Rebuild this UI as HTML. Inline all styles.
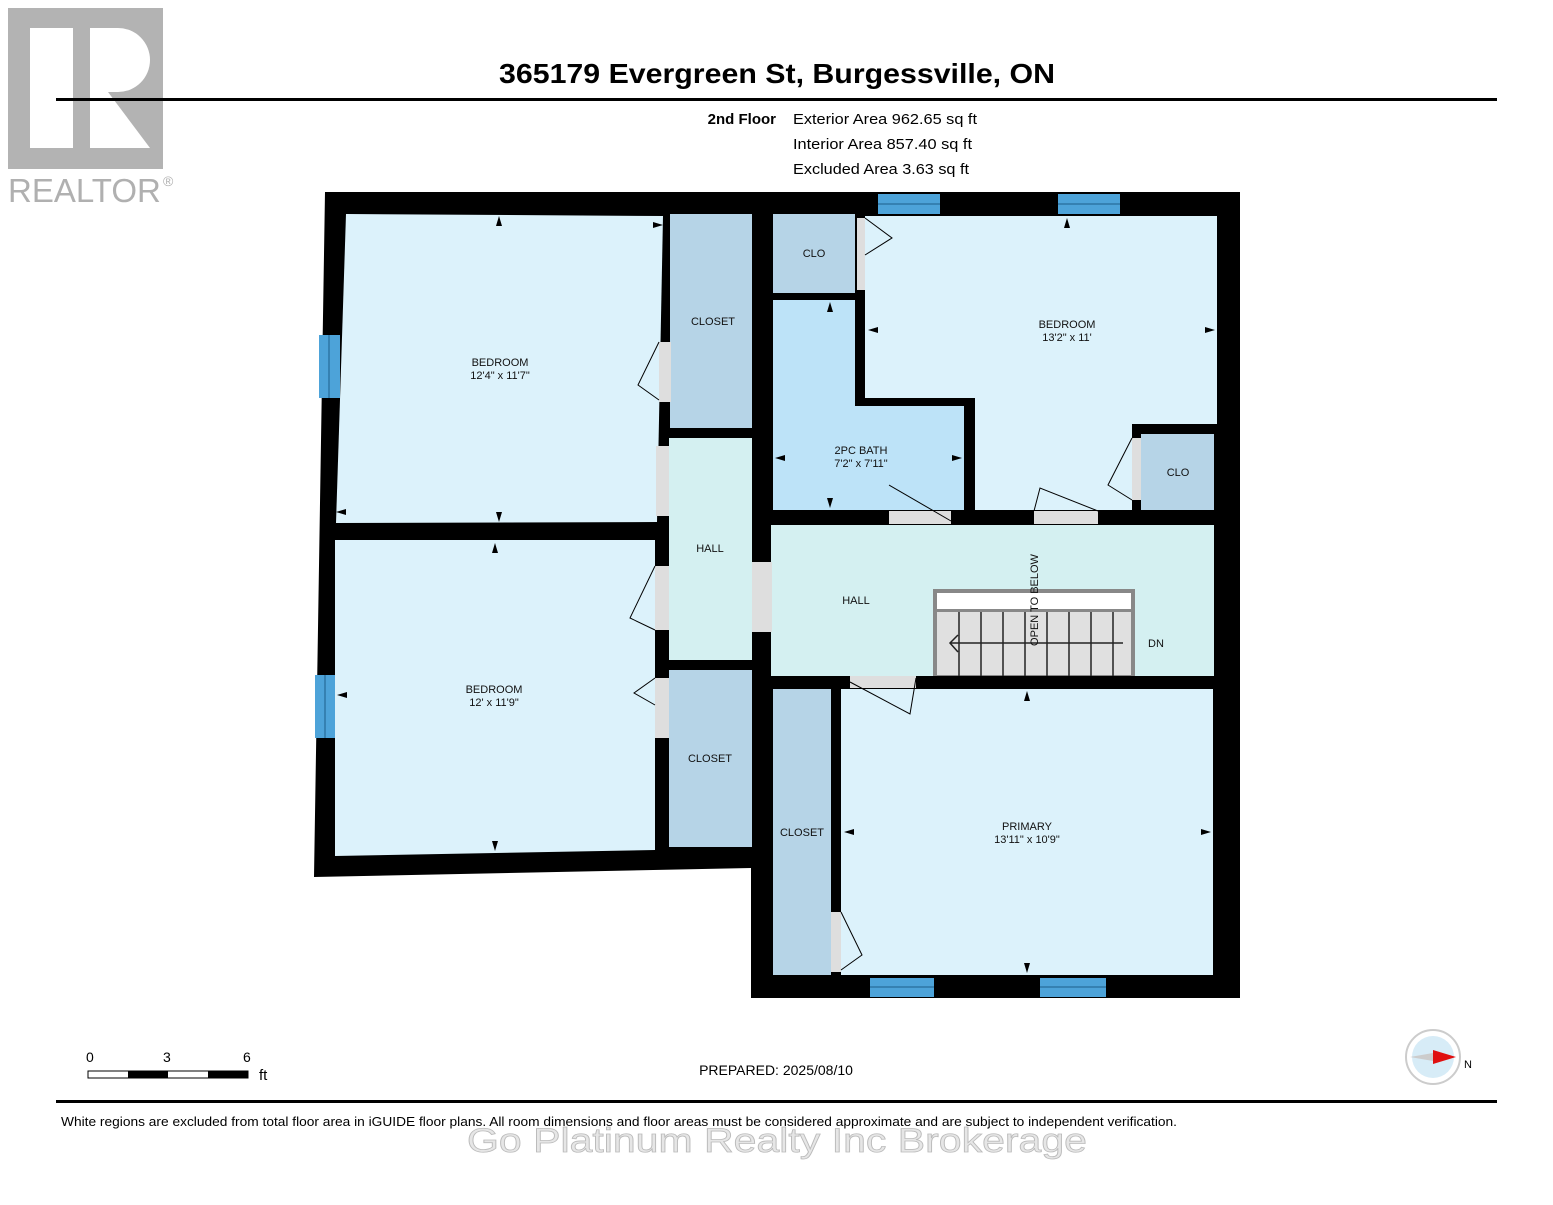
<!DOCTYPE html>
<html><head><meta charset="utf-8"><style>
body{margin:0;background:#fff;width:1553px;height:1200px;overflow:hidden;font-family:"Liberation Sans",Arial,sans-serif}
svg text{font-family:"Liberation Sans",Arial,sans-serif}
</style></head><body>
<svg width="1553" height="1200" viewBox="0 0 1553 1200" xmlns="http://www.w3.org/2000/svg">
<!-- logo -->
<rect x="8" y="8" width="155" height="161" fill="#b3b3b3"/>
<rect x="30" y="28" width="43" height="120" fill="#fff"/>
<path d="M90 28 H118 A32 32 0 0 1 118 92 H108 L150 148 H90 Z" fill="#fff"/>
<text x="8" y="202" font-size="33" fill="#b0b0b0">REALTOR</text>
<text x="163" y="186" font-size="14" fill="#b0b0b0">®</text>
<text x="777" y="83" font-size="28" font-weight="bold" text-anchor="middle" fill="#000" textLength="556" lengthAdjust="spacingAndGlyphs">365179 Evergreen St, Burgessville, ON</text>
<rect x="56" y="98" width="1441" height="3" fill="#000"/>
<text x="776" y="124" font-size="15" font-weight="bold" text-anchor="end">2nd Floor</text>
<text x="793" y="124" font-size="15" textLength="184" lengthAdjust="spacingAndGlyphs">Exterior Area 962.65 sq ft</text>
<text x="793" y="149" font-size="15" textLength="179" lengthAdjust="spacingAndGlyphs">Interior Area 857.40 sq ft</text>
<text x="793" y="174" font-size="15" textLength="176" lengthAdjust="spacingAndGlyphs">Excluded Area 3.63 sq ft</text>
<!-- walls -->
<polygon points="325,192 1240,192 1240,998 751,998 751,868 314,877" fill="#000"/>
<!-- rooms -->
<g font-size="11" text-anchor="middle" fill="#111">
<polygon points="346,214 663,216 657,522 336,523" fill="#dcf2fb"/>
<rect x="670" y="214" width="82" height="214" fill="#b6d4e7"/>
<rect x="669" y="438" width="83" height="222" fill="#d4f0f1"/>
<polygon points="335,540 655,540 655,850 335,856" fill="#dcf2fb"/>
<rect x="669" y="670" width="83" height="177" fill="#b6d4e7"/>
<rect x="773" y="214" width="82" height="79" fill="#b6d4e7"/>
<polygon points="773,300 855,300 855,406 964,406 964,510 773,510" fill="#bde3f8"/>
<polygon points="865,216 1217,216 1217,424 1132,424 1132,510 975,510 975,398 865,398" fill="#dcf2fb"/>
<rect x="1141" y="434" width="73" height="76" fill="#b6d4e7"/>
<rect x="771" y="525" width="443" height="151" fill="#d4f0f1"/>
<rect x="773" y="689" width="58" height="286" fill="#b6d4e7"/>
<rect x="841" y="689" width="372" height="286" fill="#dcf2fb"/>
<!-- windows -->
<g fill="#4da3d9">
<rect x="878" y="194" width="62" height="20"/><rect x="1058" y="194" width="62" height="20"/>
<rect x="319" y="335" width="21" height="63"/><rect x="315" y="675" width="20" height="63"/>
<rect x="870" y="978" width="64" height="19"/><rect x="1040" y="978" width="66" height="19"/>
</g>
<g stroke="#1d5f8a" stroke-width="1">
<line x1="878" y1="204" x2="940" y2="204"/><line x1="1058" y1="204" x2="1120" y2="204"/>
<line x1="870" y1="987" x2="934" y2="987"/><line x1="1040" y1="987" x2="1106" y2="987"/>
<line x1="329" y1="335" x2="329" y2="398"/><line x1="325" y1="675" x2="325" y2="738"/>
</g>
<!-- door openings -->
<g fill="#dedede">
<rect x="659" y="342" width="12" height="60"/><rect x="656" y="446" width="13" height="70"/>
<rect x="655" y="566" width="14" height="64"/><rect x="655" y="678" width="14" height="60"/>
<rect x="752" y="562" width="20" height="70"/><rect x="857" y="218" width="8" height="72"/>
<rect x="889" y="511" width="62" height="13"/><rect x="1034" y="511" width="64" height="13"/>
<rect x="1132" y="438" width="9" height="62"/><rect x="850" y="676" width="66" height="12"/>
<rect x="831" y="912" width="10" height="60"/>
</g>
<g fill="none" stroke="#000" stroke-width="1">
<path d="M659 342 L638 385 L659 400"/><path d="M655 566 L630 618 L655 630"/>
<path d="M655 678 L634 693 L655 705"/><path d="M865 218 L892 238 L865 255"/>
<path d="M889 485 L951 521"/><path d="M1098 511 L1040 488 L1034 511"/>
<path d="M1132 438 L1108 485 L1132 500"/><path d="M850 682 L910 714 L916 678"/>
<path d="M841 912 L862 955 L841 970"/>
</g>
<!-- stairs -->
<rect x="933" y="589" width="202" height="87" fill="#888"/>
<rect x="937" y="593" width="194" height="16" fill="#fff"/>
<rect x="937" y="612" width="194" height="63" fill="#e0e0e0"/>
<g stroke="#222" stroke-width="1.5">
<line x1="959" y1="612" x2="959" y2="676"/><line x1="981" y1="612" x2="981" y2="676"/><line x1="1003" y1="612" x2="1003" y2="676"/><line x1="1025" y1="612" x2="1025" y2="676"/><line x1="1047" y1="612" x2="1047" y2="676"/><line x1="1069" y1="612" x2="1069" y2="676"/><line x1="1091" y1="612" x2="1091" y2="676"/><line x1="1113" y1="612" x2="1113" y2="676"/>
<line x1="950" y1="643" x2="1123" y2="643"/><path d="M958 635 L950 643 L958 652" fill="none"/>
</g>
<text x="1038" y="600" font-size="11" transform="rotate(-90 1038 600)">OPEN TO BELOW</text>
<text x="1156" y="647">DN</text>
<!-- labels -->
<text x="500" y="366">BEDROOM</text><text x="500" y="379">12'4" x 11'7"</text>
<text x="713" y="325">CLOSET</text>
<text x="710" y="552">HALL</text>
<text x="494" y="693">BEDROOM</text><text x="494" y="706">12' x 11'9"</text>
<text x="710" y="762">CLOSET</text>
<text x="814" y="257">CLO</text>
<text x="861" y="454">2PC BATH</text><text x="861" y="467">7'2" x 7'11"</text>
<text x="1067" y="328">BEDROOM</text><text x="1067" y="341">13'2" x 11'</text>
<text x="1178" y="476">CLO</text>
<text x="856" y="604">HALL</text>
<text x="802" y="836">CLOSET</text>
<text x="1027" y="830">PRIMARY</text><text x="1027" y="843">13'11" x 10'9"</text>
</g>
<!-- dimension arrows -->
<g fill="#000">
<path d="M499 216 l-3 10 h6z"/><path d="M499 522 l-3 -10 h6z"/><path d="M336 512 l10 -3 v6z"/><path d="M663 225 l-10 -3 v6z"/>
<path d="M495 543 l-3 10 h6z"/><path d="M495 851 l-3 -10 h6z"/><path d="M337 695 l10 -3 v6z"/>
<path d="M830 302 l-3 10 h6z"/><path d="M830 508 l-3 -10 h6z"/><path d="M775 458 l10 -3 v6z"/><path d="M962 458 l-10 -3 v6z"/>
<path d="M1067 218 l-3 10 h6z"/><path d="M868 330 l10 -3 v6z"/><path d="M1215 330 l-10 -3 v6z"/>
<path d="M1027 691 l-3 10 h6z"/><path d="M1027 973 l-3 -10 h6z"/><path d="M844 832 l10 -3 v6z"/><path d="M1211 832 l-10 -3 v6z"/>
</g>
<!-- scale -->
<text x="86" y="1062" font-size="14">0</text><text x="163" y="1062" font-size="14">3</text><text x="243" y="1062" font-size="14">6</text>
<rect x="88" y="1071" width="160" height="7" fill="#fff" stroke="#000"/>
<rect x="128" y="1071" width="40" height="7" fill="#000"/><rect x="208" y="1071" width="40" height="7" fill="#000"/>
<text x="259" y="1080" font-size="15">ft</text>
<text x="776" y="1075" font-size="14" text-anchor="middle">PREPARED: 2025/08/10</text>
<!-- compass -->
<circle cx="1433" cy="1057" r="27" fill="#fff" stroke="#ccc" stroke-width="2"/>
<circle cx="1433" cy="1057" r="21" fill="#d7ecf7"/>
<path d="M1410 1057 L1433 1053 L1433 1061Z" fill="#ccc"/>
<path d="M1456 1057 L1433 1050 L1433 1064Z" fill="#e01010"/>
<text x="1464" y="1068" font-size="11">N</text>
<rect x="56" y="1100" width="1441" height="3" fill="#000"/>
<text x="61" y="1126" font-size="13" textLength="1116" lengthAdjust="spacingAndGlyphs">White regions are excluded from total floor area in iGUIDE floor plans. All room dimensions and floor areas must be considered approximate and are subject to independent verification.</text>
<text x="777" y="1152" font-size="34" text-anchor="middle" fill="#e6e6e6" stroke="#bbb" stroke-width="0.8" textLength="620" lengthAdjust="spacingAndGlyphs">Go Platinum Realty Inc Brokerage</text>
</svg>
</body></html>
